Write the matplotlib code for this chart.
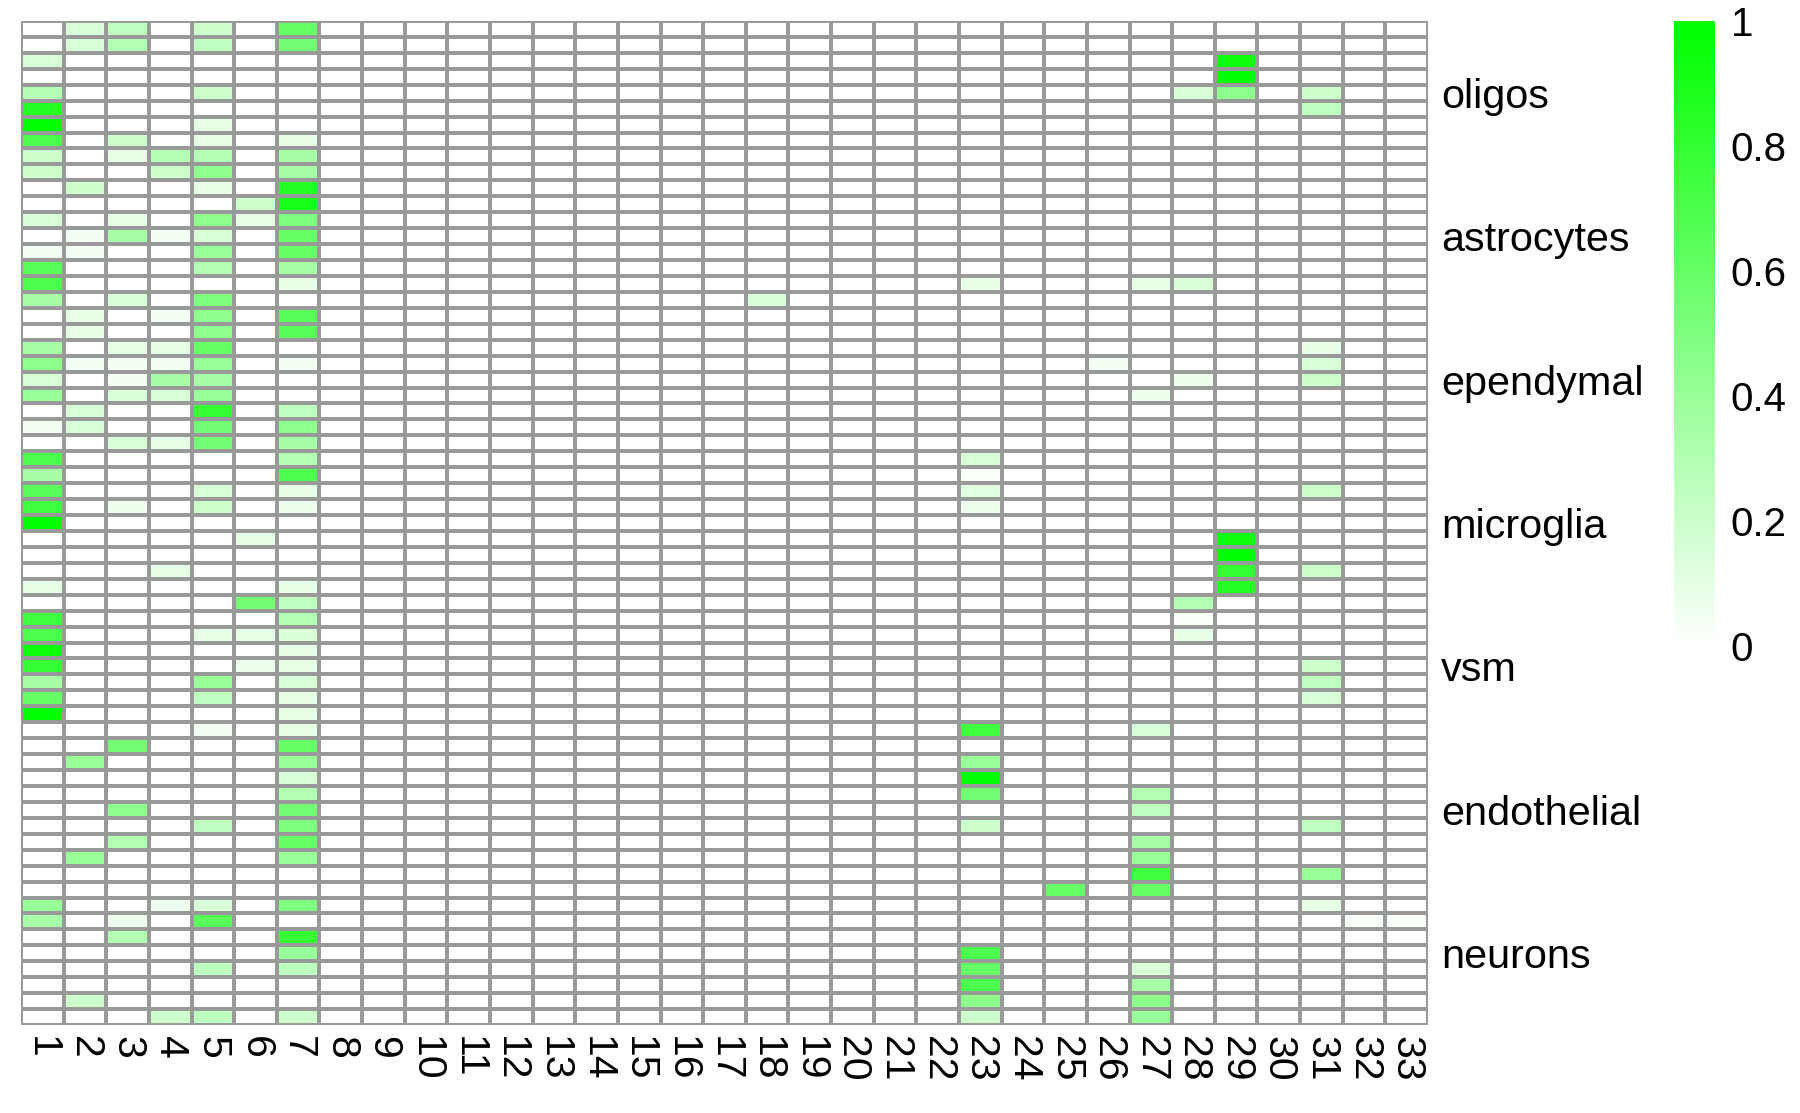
import numpy as np
import matplotlib
matplotlib.use("Agg")
import matplotlib.pyplot as plt
from matplotlib.colors import LinearSegmentedColormap

plt.rcParams['font.family'] = ['Liberation Sans', 'DejaVu Sans']

# cell types, 9 rows each, label sits on the middle row of its block
cell_types = ['oligos', 'astrocytes', 'ependymal', 'microglia', 'vsm', 'endothelial', 'neurons']
rows_per_type = 9
n_cols = 33
col_labels = [str(i) for i in range(1, n_cols + 1)]

# values per column (63 rows, top to bottom); columns not listed are all zero
col01 = [0, 0, 0.15, 0, 0.3, 0.85, 1.0, 0.7, 0.2,
         0.2, 0, 0, 0.15, 0, 0.05, 0.65, 0.7, 0.35,
         0, 0, 0.35, 0.45, 0.15, 0.4, 0, 0.05, 0,
         0.7, 0.35, 0.65, 0.75, 1.0, 0, 0, 0, 0.1,
         0, 0.75, 0.7, 0.95, 0.8, 0.35, 0.6, 1.0, 0,
         0, 0, 0, 0, 0, 0, 0, 0, 0,
         0, 0.4, 0.35, 0, 0, 0, 0, 0, 0]
col02 = [0.15, 0.15, 0, 0, 0, 0, 0, 0, 0,
         0, 0.2, 0, 0, 0.05, 0.05, 0, 0, 0,
         0.1, 0.1, 0, 0.05, 0, 0, 0.15, 0.15, 0,
         0, 0, 0, 0, 0, 0, 0, 0, 0,
         0, 0, 0, 0, 0, 0, 0, 0, 0,
         0, 0.4, 0, 0, 0, 0, 0, 0.4, 0,
         0, 0, 0, 0, 0, 0, 0, 0.2, 0]
col03 = [0.25, 0.3, 0, 0, 0, 0, 0, 0.2, 0.1,
         0, 0, 0, 0.1, 0.35, 0, 0, 0, 0.15,
         0, 0, 0.1, 0.05, 0.05, 0.15, 0, 0, 0.15,
         0, 0, 0, 0.07, 0, 0, 0, 0, 0,
         0, 0, 0, 0, 0, 0, 0, 0, 0,
         0.55, 0, 0, 0, 0.45, 0, 0.3, 0, 0,
         0, 0, 0.07, 0.3, 0, 0, 0, 0, 0]
col04 = [0, 0, 0, 0, 0, 0, 0, 0, 0.3,
         0.2, 0, 0, 0, 0.05, 0, 0, 0, 0,
         0.05, 0, 0.1, 0.05, 0.35, 0.15, 0, 0, 0.1,
         0, 0, 0, 0, 0, 0, 0, 0.1, 0,
         0, 0, 0, 0, 0, 0, 0, 0, 0,
         0, 0, 0, 0, 0, 0, 0, 0, 0,
         0, 0.07, 0, 0, 0, 0, 0, 0, 0.2]
col05 = [0.2, 0.25, 0, 0, 0.2, 0, 0.1, 0.1, 0.3,
         0.45, 0.1, 0, 0.45, 0.15, 0.4, 0.3, 0, 0.5,
         0.45, 0.45, 0.6, 0.4, 0.35, 0.4, 0.8, 0.55, 0.55,
         0, 0, 0.15, 0.2, 0, 0, 0, 0, 0,
         0, 0, 0.1, 0, 0, 0.4, 0.25, 0, 0.05,
         0, 0, 0, 0, 0, 0.25, 0, 0, 0,
         0, 0.15, 0.65, 0, 0, 0.25, 0, 0, 0.25]
col06 = [0, 0, 0, 0, 0, 0, 0, 0, 0,
         0, 0, 0.2, 0.1, 0, 0, 0, 0, 0,
         0, 0, 0, 0, 0, 0, 0, 0, 0,
         0, 0, 0, 0, 0, 0.1, 0, 0, 0,
         0.55, 0, 0.1, 0, 0.07, 0, 0, 0, 0,
         0, 0, 0, 0, 0, 0, 0, 0, 0,
         0, 0, 0, 0, 0, 0, 0, 0, 0]
col07 = [0.6, 0.55, 0, 0, 0, 0, 0, 0.1, 0.35,
         0.35, 0.85, 0.9, 0.5, 0.6, 0.6, 0.35, 0.1, 0,
         0.65, 0.65, 0, 0.05, 0, 0, 0.25, 0.45, 0.35,
         0.3, 0.7, 0.1, 0.07, 0, 0, 0, 0, 0.1,
         0.25, 0.3, 0.15, 0.1, 0.1, 0.15, 0.1, 0.1, 0.1,
         0.6, 0.4, 0.15, 0.3, 0.55, 0.5, 0.6, 0.4, 0,
         0, 0.5, 0, 0.8, 0.4, 0.25, 0, 0, 0.2]
col18 = [0] * 17 + [0.15] + [0] * 45
col23 = [0] * 16 + [0.1] + [0] * 10 + [0.15, 0.02, 0.12, 0.07] + [0] * 13 + \
        [0.75, 0, 0.4, 1.0, 0.55, 0, 0.2] + [0] * 7 + [0.7, 0.6, 0.7, 0.45, 0.2]
col25 = [0] * 54 + [0.6] + [0] * 8
col26 = [0] * 21 + [0.05] + [0] * 41
col27 = [0] * 16 + [0.1] + [0] * 6 + [0.07] + [0] * 20 + \
        [0.15, 0, 0, 0, 0.3, 0.25, 0, 0.35, 0.4, 0.75, 0.6, 0, 0, 0, 0,
         0.15, 0.35, 0.45, 0.4]
col28 = [0] * 4 + [0.15] + [0] * 11 + [0.15] + [0] * 5 + [0.07] + [0] * 13 + \
        [0.3, 0.02, 0.1] + [0] * 24
col29 = [0, 0, 0.95, 1.0, 0.45] + [0] * 27 + [0.95, 1.0, 0.8, 0.85] + [0] * 27
col31 = [0] * 4 + [0.2, 0.25] + [0] * 14 + [0.1, 0.15, 0.2] + [0] * 6 + [0.2] + \
        [0] * 4 + [0.2] + [0] * 5 + [0.2, 0.25, 0.15] + [0] * 7 + [0.25, 0, 0, 0.4, 0, 0.1] + [0] * 7
col32 = [0] * 56 + [0.03] + [0] * 6
col33 = [0] * 56 + [0.03] + [0] * 6

filled = {1: col01, 2: col02, 3: col03, 4: col04, 5: col05, 6: col06, 7: col07,
          18: col18, 23: col23, 25: col25, 26: col26, 27: col27, 28: col28,
          29: col29, 31: col31, 32: col32, 33: col33}

n_rows = len(cell_types) * rows_per_type
mat = np.zeros((n_rows, n_cols))
for c, vals in filled.items():
    mat[:, c - 1] = vals

cmap = LinearSegmentedColormap.from_list('wg', ['#FFFFFF', '#00FF00'])
W, H = 1800, 1113
fig = plt.figure(figsize=(W / 100, H / 100), dpi=100)

# main heatmap
ax = fig.add_axes([21 / W, (H - 1025) / H, 1407 / W, 1004 / H])
ax.pcolormesh(np.arange(n_cols + 1), np.arange(n_rows + 1), mat, cmap=cmap,
              vmin=0, vmax=1, edgecolors='#999999', linewidth=1.6)
ax.set_xlim(0, n_cols)
ax.set_ylim(n_rows, 0)
for s in ax.spines.values():
    s.set_visible(False)

ax.set_xticks(np.arange(n_cols) + 0.5)
ax.set_xticklabels(col_labels, rotation=-90, fontsize=29.5)
ax.yaxis.tick_right()
ax.set_yticks(np.arange(len(cell_types)) * rows_per_type + rows_per_type // 2 + 0.5)
ax.set_yticklabels(cell_types, fontsize=29.8)
ax.tick_params(axis='x', length=0, pad=8)
ax.tick_params(axis='y', length=0, pad=9.5)

# legend bar
cax = fig.add_axes([1674 / W, (H - 646) / H, 40 / W, 625 / H])
grad = np.linspace(0, 1, 256).reshape(-1, 1)
cax.imshow(grad, cmap=cmap, aspect='auto', origin='lower', extent=[0, 1, 0, 1])
cax.set_xlim(0, 1)
cax.set_ylim(0, 1)
for s in cax.spines.values():
    s.set_visible(False)
cax.set_xticks([])
cax.yaxis.tick_right()
cax.set_yticks([0, 0.2, 0.4, 0.6, 0.8, 1])
cax.set_yticklabels(['0', '0.2', '0.4', '0.6', '0.8', '1'], fontsize=29)
cax.tick_params(axis='y', length=0, pad=12)

fig.savefig('out.png', dpi=100, facecolor='white')
